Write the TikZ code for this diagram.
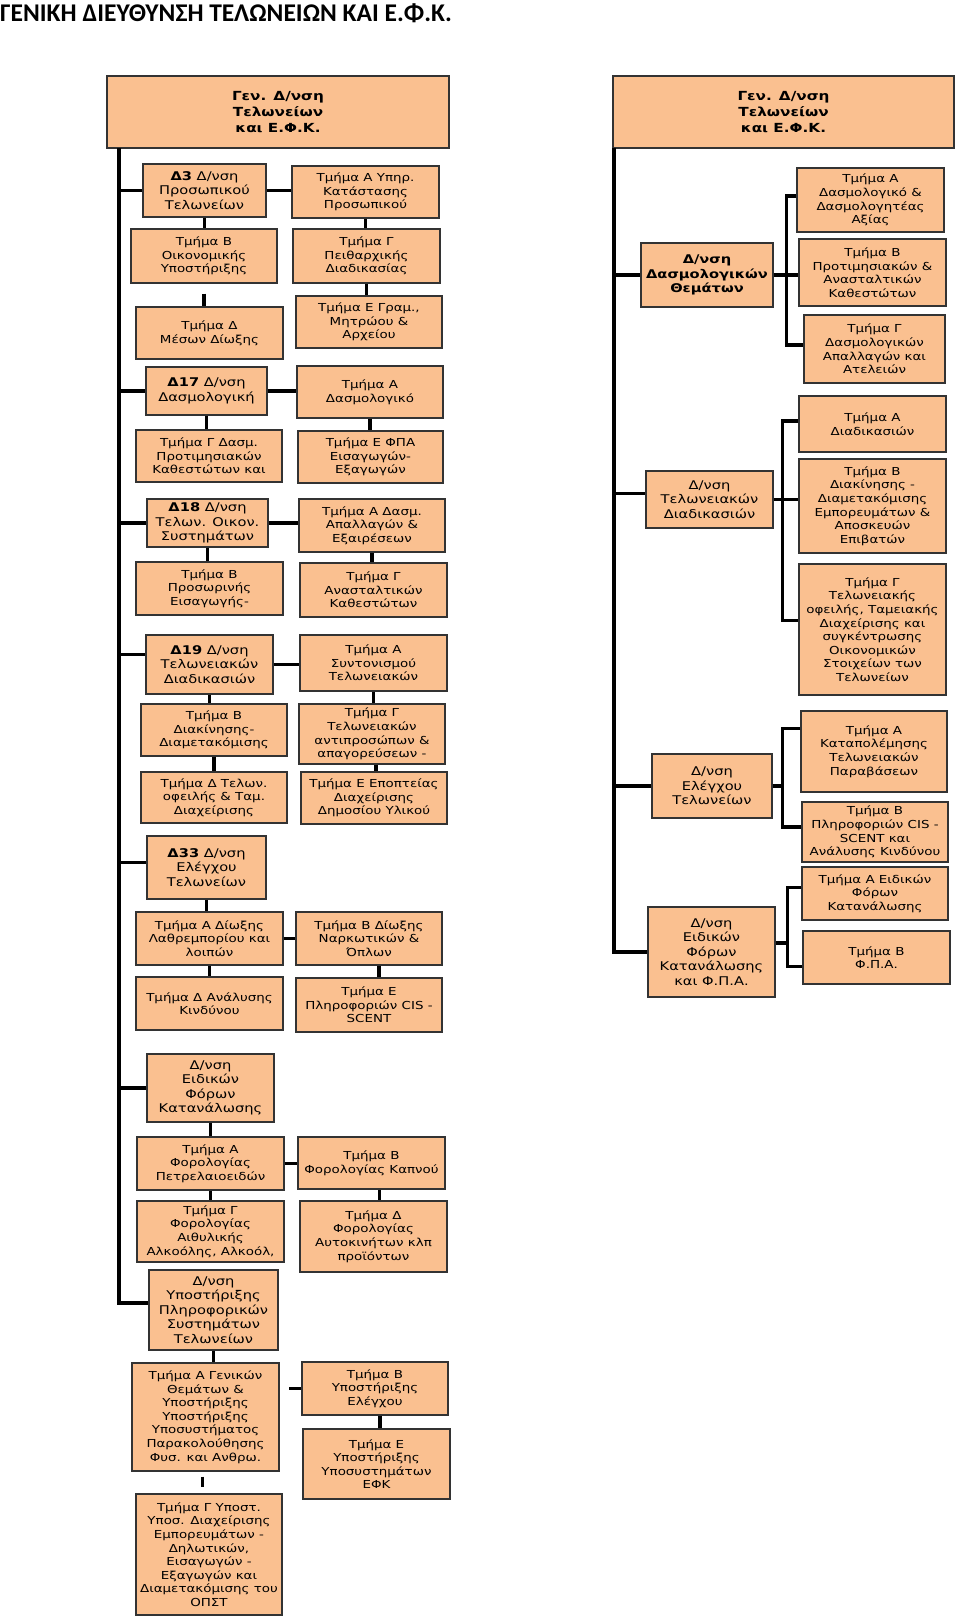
\documentclass[tikz,border=0pt]{standalone}
\usepackage{fontspec}
\setmainfont{DejaVu Sans}
\newfontfamily\boxfont[FakeStretch=1.22]{DejaVu Sans}
\newfontfamily\titlefont{Carlito}
\usetikzlibrary{positioning}
\definecolor{peach}{RGB}{250,192,144}

\begin{document}
\begin{tikzpicture}[x=1pt, y=-1pt,
  unit/.style={draw=black!80, line width=1.1pt, fill=peach, inner sep=0.5pt,
    align=center, font=\boxfont\fontsize{11}{13.6}\selectfont},
  dept/.style={unit, font=\boxfont\fontsize{12}{14.5}\selectfont},
  head/.style={unit, font=\boxfont\bfseries\fontsize{12.5}{16}\selectfont},
  sz/.style 2 args={minimum width=#1, minimum height=#2},
  link/.style={line width=3.5pt},
  trunk/.style={line width=4pt}
]
\useasboundingbox (0,0) rectangle (960,1622);

% Title
\node[anchor=base west, inner sep=0, font=\titlefont\bfseries\fontsize{25.5}{28}\selectfont]
  (title) at (0,21) {ΓΕΝΙΚΗ ΔΙΕΥΘΥΝΣΗ ΤΕΛΩΝΕΙΩΝ ΚΑΙ Ε.Φ.Κ.};

% ---------------- left chart ----------------
\node[head, sz={342}{72}] (gen) at (278,112) {Γεν. Δ/νση\\Τελωνείων\\και Ε.Φ.Κ.};
\coordinate (ltop) at (119,148);
\coordinate (lbot) at (119,1303);

% Δ3
\node[dept, sz={123}{53}] (d3) at (204.5,190.5) {\textbf{Δ3} Δ/νση\\Προσωπικού\\Τελωνείων};
\node[unit, sz={147}{52}] (t3a) at (365.5,192) {Τμήμα Α Υπηρ.\\Κατάστασης\\Προσωπικού};
\node[unit, sz={146}{54}] (t3b) at (204,256) {Τμήμα Β\\Οικονομικής\\Υποστήριξης};
\node[unit, sz={147}{54}] (t3g) at (366.5,256) {Τμήμα Γ\\Πειθαρχικής\\Διαδικασίας};
\node[unit, sz={147}{52}] (t3d) at (209.5,333) {Τμήμα Δ\\Μέσων Δίωξης};
\node[unit, sz={146}{52}] (t3e) at (369,322) {Τμήμα Ε Γραμ.,\\Μητρώου \&\\Αρχείου};

% Δ17
\node[dept, sz={121}{48}] (d17) at (206.5,391) {\textbf{Δ17} Δ/νση\\Δασμολογική};
\node[unit, sz={146}{52}] (t17a) at (370,392) {Τμήμα Α\\Δασμολογικό};
\node[unit, sz={146}{52}] (t17g) at (209,456) {Τμήμα Γ Δασμ.\\Προτιμησιακών\\Καθεστώτων και};
\node[unit, sz={145}{52}] (t17e) at (370.5,457) {Τμήμα Ε ΦΠΑ\\Εισαγωγών-\\Εξαγωγών};

% Δ18
\node[dept, sz={121}{48}] (d18) at (207.5,523) {\textbf{Δ18} Δ/νση\\Τελων. Οικον.\\Συστημάτων};
\node[unit, sz={146}{53}] (t18a) at (372,525.5) {Τμήμα Α Δασμ.\\Απαλλαγών \&\\Εξαιρέσεων};
\node[unit, sz={147}{53}] (t18b) at (209.5,588.5) {Τμήμα Β\\Προσωρινής\\Εισαγωγής-};
\node[unit, sz={147}{54}] (t18g) at (373.5,590) {Τμήμα Γ\\Ανασταλτικών\\Καθεστώτων};

% Δ19
\node[dept, sz={127}{59}] (d19) at (209.5,664.5) {\textbf{Δ19} Δ/νση\\Τελωνειακών\\Διαδικασιών};
\node[unit, sz={147}{56}] (t19a) at (373.5,663) {Τμήμα Α\\Συντονισμού\\Τελωνειακών};
\node[unit, sz={146}{52}] (t19b) at (214,730) {Τμήμα Β\\Διακίνησης-\\Διαμετακόμισης};
\node[unit, sz={146}{60}] (t19g) at (372,734) {Τμήμα Γ\\Τελωνειακών\\αντιπροσώπων \&\\απαγορεύσεων -};
\node[unit, sz={146}{51}] (t19d) at (214,797.5) {Τμήμα Δ Τελων.\\οφειλής \& Ταμ.\\Διαχείρισης};
\node[unit, sz={146}{52}] (t19e) at (374,798) {Τμήμα Ε Εποπτείας\\Διαχείρισης\\Δημοσίου Υλικού};

% Δ33
\node[dept, sz={119}{63}] (d33) at (206.5,867.5) {\textbf{Δ33} Δ/νση\\Ελέγχου\\Τελωνείων};
\node[unit, sz={147}{53}] (t33a) at (209.5,938.5) {Τμήμα Α Δίωξης\\Λαθρεμπορίου και\\λοιπών};
\node[unit, sz={146}{53}] (t33b) at (369,938.5) {Τμήμα Β Δίωξης\\Ναρκωτικών \&\\Όπλων};
\node[unit, sz={147}{53}] (t33d) at (209.5,1003.5) {Τμήμα Δ Ανάλυσης\\Κινδύνου};
\node[unit, sz={146}{54}] (t33e) at (369,1005) {Τμήμα Ε\\Πληροφοριών CIS -\\SCENT};

% Ειδικών Φόρων Κατανάλωσης
\node[dept, sz={127}{68}] (defk) at (210.5,1088) {Δ/νση\\Ειδικών\\Φόρων\\Κατανάλωσης};
\node[unit, sz={147}{53}] (tfa) at (210.5,1163.5) {Τμήμα Α\\Φορολογίας\\Πετρελαιοειδών};
\node[unit, sz={147}{52}] (tfb) at (371.5,1163) {Τμήμα Β\\Φορολογίας Καπνού};
\node[unit, sz={147}{61}] (tfg) at (210.5,1231.5) {Τμήμα Γ\\Φορολογίας\\Αιθυλικής\\Αλκοόλης, Αλκοόλ,};
\node[unit, sz={147}{71}] (tfd) at (373.5,1236.5) {Τμήμα Δ\\Φορολογίας\\Αυτοκινήτων κλπ\\προϊόντων};

% Υποστήριξης Πληροφορικών Συστημάτων
\node[dept, sz={129}{80}] (dpsys) at (213.5,1310) {Δ/νση\\Υποστήριξης\\Πληροφορικών\\Συστημάτων\\Τελωνείων};
\node[unit, sz={147}{108}] (tpa) at (205.5,1417) {Τμήμα Α Γενικών\\Θεμάτων \&\\Υποστήριξης\\Υποστήριξης\\Υποσυστήματος\\Παρακολούθησης\\Φυσ. και Ανθρω.};
\node[unit, sz={146}{53}] (tpb) at (375,1388.5) {Τμήμα Β\\Υποστήριξης\\Ελέγχου};
\node[unit, sz={147}{70}] (tpe) at (376.5,1464) {Τμήμα Ε\\Υποστήριξης\\Υποσυστημάτων\\ΕΦΚ};
\node[unit, sz={146}{121}] (tpg) at (209,1554.5) {Τμήμα Γ Υποστ.\\Υποσ. Διαχείρισης\\Εμπορευμάτων -\\Δηλωτικών,\\Εισαγωγών -\\Εξαγωγών και\\Διαμετακόμισης του\\ΟΠΣΤ};

% left trunk and branches
\draw[trunk] (ltop) -- (lbot) -- (lbot -| dpsys.west);
\draw[link] (ltop |- d3.west) -- (d3.west);
\draw[link] (ltop |- d17.west) -- (d17.west);
\draw[link] (ltop |- d18.west) -- (d18.west);
\draw[link] ([yshift=10pt]d19.west -| ltop) -- ([yshift=10pt]d19.west);
\draw[link] ([yshift=5pt]d33.west -| ltop) -- ([yshift=5pt]d33.west);
\draw[link] (ltop |- defk.west) -- (defk.west);

\draw[link] (d3.east) -- (d3.east -| t3a.west);
\draw[link] (d3.south) -- (d3.south |- t3b.north);
\draw[link] (t3a.south) -- (t3a.south |- t3g.north);
\draw[link, shorten <=10pt] (t3b.south) -- (t3b.south |- t3d.north);
\draw[link] (t3g.south) -- (t3g.south |- t3e.north);

\draw[link] (d17.east) -- (d17.east -| t17a.west);
\draw[link] (d17.south) -- (d17.south |- t17g.north);
\draw[link] (t17a.south) -- (t17a.south |- t17e.north);

\draw[link] (d18.east) -- (d18.east -| t18a.west);
\draw[link] (d18.south) -- (d18.south |- t18b.north);
\draw[link] (t18a.south) -- (t18a.south |- t18g.north);

\draw[link] (d19.east) -- (d19.east -| t19a.west);
\draw[link] (d19.south) -- (d19.south |- t19b.north);
\draw[link] (t19a.south) -- (t19a.south |- t19g.north);
\draw[link] (t19b.south) -- (t19b.south |- t19d.north);
\draw[link] ([xshift=4pt]t19g.south) -- ([xshift=4pt]t19g.south |- t19e.north);

\draw[link] (d33.south) -- (d33.south |- t33a.north);
\draw[link] (t33a.east) -- (t33a.east -| t33b.west);
\draw[link] (t33a.south) -- (t33a.south |- t33d.north);
\draw[link] ([xshift=10pt]t33b.south) -- ([xshift=10pt]t33b.south |- t33e.north);

\draw[link] (defk.south) -- (defk.south |- tfa.north);
\draw[link] (tfa.east) -- (tfa.east -| tfb.west);
\draw[link] (tfa.south) -- (tfa.south |- tfg.north);
\draw[link] ([xshift=8pt]tfb.south) -- ([xshift=8pt]tfb.south |- tfd.north);

\draw[link] (dpsys.south) -- (dpsys.south |- tpa.north);
\draw[link, shorten >=9pt] (tpb.west) -- (tpb.west -| tpa.east);
\draw[link] ([xshift=5pt]tpb.south) -- ([xshift=5pt]tpb.south |- tpe.north);
\draw[link, shorten <=5pt, shorten >=6pt] ([xshift=-3pt]tpa.south) -- ([xshift=-3pt]tpa.south |- tpg.north);

% ---------------- right chart ----------------
\node[head, sz={341}{72}] (rgen) at (783.5,112) {Γεν. Δ/νση\\Τελωνείων\\και Ε.Φ.Κ.};
\coordinate (rtop) at (614,148);

% Δασμολογικών Θεμάτων
\node[dept, sz={132}{64}] (rdd) at (707,275) {\textbf{Δ/νση}\\\textbf{Δασμολογικών}\\\textbf{Θεμάτων}};
\node[unit, sz={147}{64}] (rda) at (870.5,200) {Τμήμα Α\\Δασμολογικό \&\\Δασμολογητέας\\Αξίας};
\node[unit, sz={147}{67}] (rdb) at (872.5,272.5) {Τμήμα Β\\Προτιμησιακών \&\\Ανασταλτικών\\Καθεστώτων};
\node[unit, sz={141}{68}] (rdg) at (874.5,349) {Τμήμα Γ\\Δασμολογικών\\Απαλλαγών και\\Ατελειών};

% Τελωνειακών Διαδικασιών
\node[dept, sz={127}{57}] (rtd) at (709.5,499.5) {Δ/νση\\Τελωνειακών\\Διαδικασιών};
\node[unit, sz={147}{56}] (rta) at (872.5,424) {Τμήμα Α\\Διαδικασιών};
\node[unit, sz={147}{94}] (rtb) at (872.5,506) {Τμήμα Β\\Διακίνησης -\\Διαμετακόμισης\\Εμπορευμάτων \&\\Αποσκευών\\Επιβατών};
\node[unit, sz={147}{131}] (rtg) at (872.5,629.5) {Τμήμα Γ\\Τελωνειακής\\οφειλής, Ταμειακής\\Διαχείρισης και\\συγκέντρωσης\\Οικονομικών\\Στοιχείων των\\Τελωνείων};

% Ελέγχου Τελωνείων
\node[dept, sz={120}{64}] (rek) at (712,786) {Δ/νση\\Ελέγχου\\Τελωνείων};
\node[unit, sz={146}{81}] (rea) at (874,751.5) {Τμήμα Α\\Καταπολέμησης\\Τελωνειακών\\Παραβάσεων};
\node[unit, sz={146}{60}] (reb) at (875,832) {Τμήμα Β\\Πληροφοριών CIS -\\SCENT και\\Ανάλυσης Κινδύνου};

% Ειδικών Φόρων Κατανάλωσης και ΦΠΑ
\node[dept, sz={127}{90}] (ref) at (711.5,952) {Δ/νση\\Ειδικών\\Φόρων\\Κατανάλωσης\\και Φ.Π.Α.};
\node[unit, sz={146}{53}] (rfa) at (875,893.5) {Τμήμα Α Ειδικών\\Φόρων\\Κατανάλωσης};
\node[unit, sz={147}{53}] (rfb) at (876.5,957.5) {Τμήμα Β\\Φ.Π.Α.};

% right trunk and branches
\draw[trunk] (rtop) -- (rtop |- ref.west) -- (ref.west);
\draw[link] (rtop |- rdd.west) -- (rdd.west);
\draw[link] ([yshift=6pt]rtd.west -| rtop) -- ([yshift=6pt]rtd.west);
\draw[link] (rtop |- rek.west) -- (rek.west);

\draw[link] ([yshift=4pt]rda.west) -- ++(-10,0) coordinate (rdbr) |- ([yshift=4pt]rdg.west);
\draw[link] (rdd.east) -- (rdd.east -| rdb.west);

\draw[link] ([yshift=3pt]rta.west) -- ++(-16,0) coordinate (rtbr) |- ([yshift=9pt]rtg.west);
\draw[link] (rtd.east) -- (rtd.east -| rtb.west);

\draw[link] ([yshift=23pt]rea.west) -- ++(-18,0) coordinate (rebr) |- ([yshift=5pt]reb.west);
\draw[link] (rek.east) -- (rek.east -| rebr);

\draw[link] ([yshift=6pt]rfa.west) -- ++(-14,0) coordinate (rfbr) |- ([yshift=-9pt]rfb.west);
\draw[link] ([yshift=9pt]ref.east) -- ([yshift=9pt]ref.east -| rfbr);
\end{tikzpicture}
\end{document}
